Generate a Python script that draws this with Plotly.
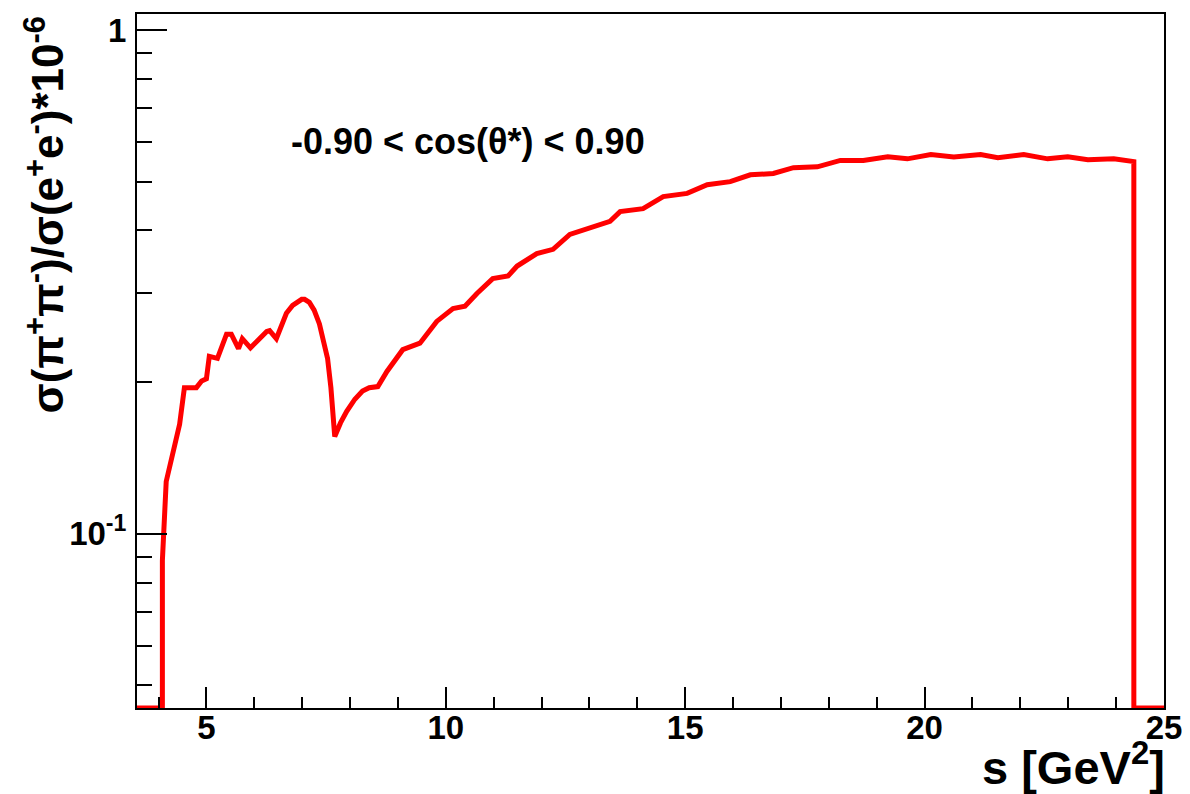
import math
import plotly.graph_objects as go

# s [GeV^2] and ratio sigma(pi+pi-)/sigma(e+e-) * 1e-6
s_vals = [3.55, 4.08, 4.08, 4.16, 4.44, 4.54, 4.79, 4.90, 5.00, 5.06, 5.23, 5.42, 5.52,
          5.67, 5.75, 5.92, 6.26, 6.32, 6.46, 6.67, 6.80, 6.99, 7.05, 7.15, 7.25, 7.36,
          7.45, 7.53, 7.60, 7.68, 7.80, 7.93, 8.10, 8.26, 8.40, 8.58, 8.77, 9.10,
          9.46, 9.81, 10.15, 10.40, 10.65, 10.98,
          11.30, 11.49, 11.90, 12.24, 12.59, 13.01, 13.43, 13.64, 14.12, 14.54,
          15.04, 15.46, 15.94, 16.36, 16.84, 17.26, 17.76, 18.24, 18.72, 19.23,
          19.64, 20.13, 20.61, 21.17, 21.53, 22.07, 22.57, 22.99, 23.41, 23.95,
          24.35, 24.37, 24.37, 25.0]
ratio_vals = [0.0451, 0.0451, 0.0885, 0.127, 0.165, 0.195, 0.195, 0.201, 0.203, 0.225,
              0.223, 0.249, 0.249, 0.233, 0.244, 0.234, 0.252, 0.253, 0.244, 0.274,
              0.284, 0.292, 0.292, 0.288, 0.278, 0.261, 0.240, 0.223, 0.195, 0.156,
              0.166, 0.175, 0.185, 0.192, 0.195, 0.196, 0.210, 0.232,
              0.239, 0.264, 0.280, 0.283, 0.300, 0.321, 0.325, 0.340, 0.360, 0.367,
              0.393, 0.404, 0.417, 0.436, 0.442, 0.467, 0.474, 0.493, 0.500, 0.516,
              0.519, 0.533, 0.535, 0.551, 0.551, 0.560, 0.555, 0.566, 0.560, 0.566,
              0.558, 0.566, 0.555, 0.560, 0.553, 0.555, 0.548, 0.548, 0.0451, 0.0451]

x_major = [5, 10, 15, 20, 25]
x_minor = [4, 6, 7, 8, 9, 11, 12, 13, 14, 16, 17, 18, 19, 21, 22, 23, 24]
y_major = [0.1, 1]
y_major_text = ["10<sup>-1</sup>", "1"]
y_minor = [0.05, 0.06, 0.07, 0.08, 0.09, 0.2, 0.3, 0.4, 0.5, 0.6, 0.7, 0.8, 0.9]

x_range = [3.55, 25.0]
y_range = [0.0451, 1.076]

FONT = "Liberation Sans, Arial, sans-serif"

# page offset of the figure (default body margin) is compensated in the margins
fig = go.Figure()
fig.add_trace(go.Scatter(x=s_vals, y=ratio_vals, mode="lines",
                         line=dict(color="#ff0000", width=5),
                         showlegend=False, hoverinfo="skip"))

fig.update_layout(
    width=1182, height=786,
    margin=dict(l=129, r=26, t=4, b=86),
    paper_bgcolor="white", plot_bgcolor="white",
    font=dict(family=FONT, color="black"),
)

fig.update_xaxes(
    range=x_range, showgrid=False, zeroline=False,
    showline=True, linecolor="black", linewidth=2, mirror=True,
    tickmode="array", tickvals=x_major, ticktext=[f"<b>{v}</b>" for v in x_major],
    ticks="inside", ticklen=21, tickwidth=2, tickcolor="black",
    tickfont=dict(size=33, family=FONT), ticklabelstandoff=-11,
    minor=dict(tickmode="array", tickvals=x_minor, ticks="inside", ticklen=11,
               tickwidth=2, tickcolor="black", showgrid=False),
)
fig.update_yaxes(
    type="log", range=[math.log10(y_range[0]), math.log10(y_range[1])],
    showgrid=False, zeroline=False,
    showline=True, linecolor="black", linewidth=2, mirror=True,
    tickmode="array", tickvals=y_major, ticktext=[f"<b>{t}</b>" for t in y_major_text],
    ticks="inside", ticklen=30, tickwidth=2, tickcolor="black",
    tickfont=dict(size=33, family=FONT), ticklabelstandoff=2,
    minor=dict(tickmode="array", tickvals=y_minor, ticks="inside", ticklen=15,
               tickwidth=2, tickcolor="black", showgrid=False),
)

# y-axis title (ROOT style: aligned toward the top)
fig.add_annotation(
    text="<b>σ(π<sup>+</sup>π<sup>-</sup>)/σ(e<sup>+</sup>e<sup>-</sup>)*10<sup>-6</sup></b>",
    xref="paper", yref="paper", x=(44 - 137) / 1027, y=(708 - 214) / 696,
    xanchor="center", yanchor="middle", textangle=-90, showarrow=False,
    font=dict(size=44, family=FONT, color="black"),
)
# x-axis title (right aligned)
fig.add_annotation(
    text="<b>s [GeV<sup>2</sup>]</b>",
    xref="paper", yref="paper", x=(1167 - 137) / 1027, y=(708 - 764) / 696,
    xanchor="right", yanchor="middle", showarrow=False,
    font=dict(size=47, family=FONT, color="black"),
)
# cut label
fig.add_annotation(
    text="<b>-0.90 < cos(θ*) < 0.90</b>",
    xref="paper", yref="paper", x=(468 - 137) / 1027, y=(708 - 140) / 696,
    xanchor="center", yanchor="middle", showarrow=False,
    font=dict(size=36, family=FONT, color="black"),
)

fig.write_html("out.html")
